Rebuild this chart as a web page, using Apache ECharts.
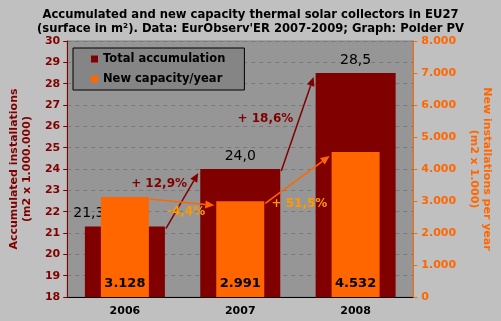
<!DOCTYPE html>
<html><head><meta charset="utf-8">
<script src="https://cdn.jsdelivr.net/npm/echarts@6/dist/echarts.min.js"></script>
<style>html,body{margin:0;padding:0;background:#c0c0c0}#c{width:501px;height:321px}</style>
</head><body><div id="c"></div>
<script>
const categories = ['2006', '2007', '2008'];
const totalAccum = [21.3, 24.0, 28.5];      // m2 x 1.000.000
const newCapacity = [3128, 2991, 4532];     // m2 x 1.000
const growthTotal = ['+ 12,9%', '+ 18,6%'];
const growthNew = ['-4,4%', '+ 51,5%'];
const leftMin = 18, leftMax = 30, leftStep = 1;
const rightMin = 0, rightMax = 8000, rightStep = 1000;

const DARK = '#800000', ORANGE = '#ff6600', GOLD = '#ff9900';
const FONT = 'DejaVu Sans';
const fmtDot = v => String(Math.round(v)).replace(/\B(?=(\d{3})+(?!\d))/g, '.');
const fmtComma = v => v.toFixed(1).replace('.', ',');

const chart = echarts.init(document.getElementById('c'), null, {renderer: 'canvas'});

function arrowSeries(name, yIdx, values, labels, color, halfW, textColor, offs) {
  const data = [];
  for (let i = 0; i < values.length - 1; i++) data.push([i, values[i], values[i + 1], labels[i]]);
  return {
    name, type: 'custom', coordinateSystem: 'cartesian2d', xAxisIndex: 0, yAxisIndex: yIdx,
    z: 10, clip: false, silent: true, data,
    renderItem(params, api) {
      const i = api.value(0);
      const p0 = api.coord([i, api.value(1)]);
      const p1 = api.coord([i + 1, api.value(2)]);
      const x0 = p0[0] + halfW + 1, y0 = p0[1] + 2;
      const x1 = p1[0] - halfW - 2, y1 = p1[1] + 4;
      const dx = x1 - x0, dy = y1 - y0, L = Math.sqrt(dx * dx + dy * dy);
      const ux = dx / L, uy = dy / L, hl = 9, hw = 4;
      const bx = x1 - ux * hl, by = y1 - uy * hl;
      const o = offs[params.dataIndex];
      const mx = (x0 + x1) / 2, my = (y0 + y1) / 2;
      return {
        type: 'group', children: [
          {type: 'line', shape: {x1: x0, y1: y0, x2: bx, y2: by}, style: {stroke: color, lineWidth: 1.5}},
          {type: 'polygon', shape: {points: [[x1, y1], [bx - uy * hw, by + ux * hw], [bx + uy * hw, by - ux * hw]]}, style: {fill: color}},
          {type: 'text', x: mx + o[0], y: my + o[1], style: {text: api.value(3), fill: textColor, font: 'bold 12px "' + FONT + '"', align: 'center', verticalAlign: 'middle'}}
        ]
      };
    }
  };
}

const option = {
  animation: false,
  backgroundColor: '#c0c0c0',
  textStyle: {fontFamily: FONT},
  title: {
    text: 'Accumulated and new capacity thermal solar collectors in EU27\n(surface in m²). Data: EurObserv\'ER 2007-2009; Graph: Polder PV',
    left: 'center', top: 3,
    textStyle: {fontSize: 11.6, fontWeight: 'bold', color: '#000', lineHeight: 14, fontFamily: FONT}
  },
  legend: {
    data: ['Total accumulation', 'New capacity/year'],
    orient: 'vertical', left: 73, top: 48,
    padding: [5, 19, 5, 18], itemGap: 8, itemWidth: 7, itemHeight: 7, icon: 'rect',
    backgroundColor: '#858585', borderColor: '#000', borderWidth: 1,
    textStyle: {fontSize: 11.5, fontWeight: 'bold', color: '#000', fontFamily: FONT}
  },
  grid: {left: 62, right: 79, top: 41, bottom: 24, show: true, backgroundColor: '#969696', borderColor: '#808080', borderWidth: 1},
  xAxis: [
    {type: 'category', data: categories,
      axisLine: {lineStyle: {color: '#000'}}, axisTick: {length: 4, lineStyle: {color: '#000'}},
      axisLabel: {color: '#000', fontWeight: 'bold', fontSize: 11, margin: 9, fontFamily: FONT}},
    {type: 'category', data: categories, show: false}
  ],
  yAxis: [
    {type: 'value', min: leftMin, max: leftMax, interval: leftStep, position: 'left',
      name: 'Accumulated installations\n(m2 x 1.000.000)', nameLocation: 'middle', nameGap: 28,
      nameTextStyle: {color: DARK, fontWeight: 'bold', fontSize: 11, lineHeight: 13, fontFamily: FONT},
      axisLine: {show: true, lineStyle: {color: DARK}}, axisTick: {show: true, length: 4, lineStyle: {color: DARK}},
      axisLabel: {color: DARK, fontWeight: 'bold', fontSize: 11, margin: 7, fontFamily: FONT},
      splitLine: {show: true, lineStyle: {color: '#7a7a7a', type: [4, 4]}}},
    {type: 'value', min: rightMin, max: rightMax, interval: rightStep, position: 'right',
      name: 'New installations per year\n(m2 x 1.000)', nameLocation: 'middle', nameGap: 46, nameRotate: -90,
      nameTextStyle: {color: ORANGE, fontWeight: 'bold', fontSize: 11, lineHeight: 13, fontFamily: FONT},
      axisLine: {show: true, lineStyle: {color: ORANGE}}, axisTick: {show: true, length: 4, lineStyle: {color: ORANGE}},
      axisLabel: {color: ORANGE, fontWeight: 'bold', fontSize: 11, margin: 8, formatter: fmtDot, fontFamily: FONT},
      splitLine: {show: false}}
  ],
  series: [
    {name: 'Total accumulation', type: 'bar', xAxisIndex: 0, yAxisIndex: 0, barWidth: 80, z: 2,
      itemStyle: {color: DARK},
      data: totalAccum.map((v, i) => ({value: v, label: i === 0 ? {offset: [-36, 0]} : {}})),
      label: {show: true, position: 'top', distance: 6, color: '#000', fontSize: 14, fontFamily: FONT,
        formatter: p => fmtComma(p.value)}},
    {name: 'New capacity/year', type: 'bar', xAxisIndex: 1, yAxisIndex: 1, barWidth: 48, z: 3,
      itemStyle: {color: ORANGE},
      data: newCapacity,
      label: {show: true, position: 'insideBottom', distance: 7, color: '#000', fontSize: 13, fontWeight: 'bold', fontFamily: FONT,
        formatter: p => fmtDot(p.value)}},
    arrowSeries('arrTotal', 0, totalAccum, growthTotal, DARK, 40, DARK, [[-23, -17], [-32, -5]]),
    arrowSeries('arrNew', 1, newCapacity, growthNew, ORANGE, 24, GOLD, [[4, 10], [2, 24]])
  ]
};
chart.setOption(option);
</script></body></html>
